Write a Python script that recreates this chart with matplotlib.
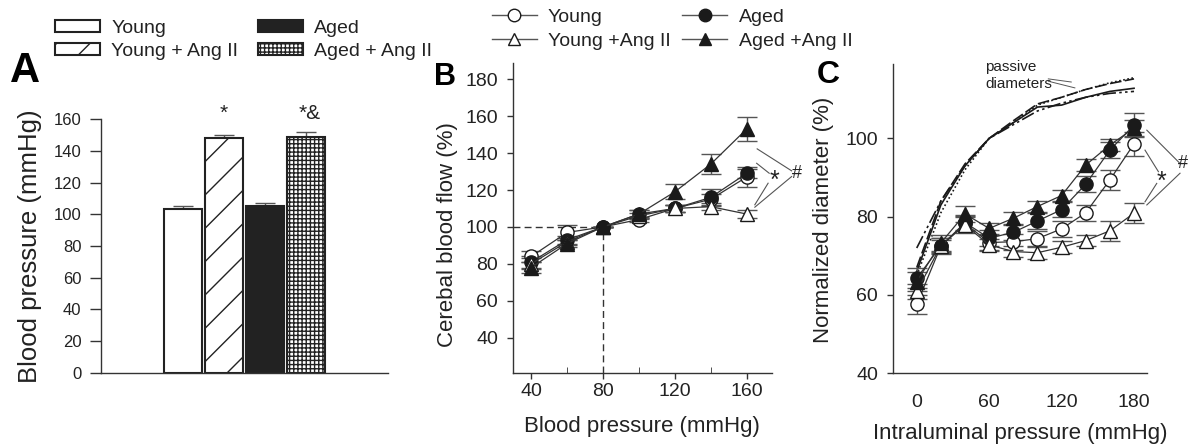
import matplotlib
matplotlib.use("Agg")
import matplotlib.pyplot as plt
from matplotlib.lines import Line2D
import numpy as np

plt.rcParams['font.family'] = ['Liberation Sans', 'DejaVu Sans']
plt.rcParams['hatch.linewidth'] = 1.0
plt.rcParams['hatch.color'] = '#222222'

# ---------------- Data ----------------
# Panel A
groups_a = ["Young", "Young + Ang II", "Aged", "Aged + Ang II"]
bp_mean = [103.5, 148, 105, 149]
bp_err = [2, 2, 2, 2.7]
bp_marks = ["", "*", "", "*&"]

# Panel B
series_labels = ["Young", "Aged", "Young +Ang II", "Aged +Ang II"]
bp_x = [40, 60, 80, 100, 120, 140, 160]
cbf_young = [84, 97, 100, 104, 110, 115, 127]
cbf_aged = [81, 93, 100, 107, 110, 116, 129]
cbf_young_ang = [80, 92, 100, 106, 110, 111, 107]
cbf_aged_ang = [78, 91, 100, 107, 119, 134, 153]
cbf_young_err = [3, 4, 0, 1.5, 2, 3, 5.5]
cbf_aged_err = [3, 2, 0, 2, 2, 4.5, 2.5]
cbf_young_ang_err = [3, 2, 0, 1.5, 2, 2, 2]
cbf_aged_ang_err = [3, 2, 0, 2, 4, 5.5, 6.5]

# Panel C
ip_x = [0, 20, 40, 60, 80, 100, 120, 140, 160, 180]
dia_young = [57.6, 72.5, 78.3, 73.4, 73.6, 74.4, 76.9, 81.0, 89.4, 98.6]
dia_aged = [64.3, 72.5, 78.5, 74.5, 76.0, 78.9, 81.8, 88.3, 97.0, 103.4]
dia_young_ang = [60.9, 72.6, 77.9, 72.8, 71.1, 70.8, 72.2, 73.9, 76.4, 80.9]
dia_aged_ang = [63.4, 73.3, 80.7, 77.0, 79.6, 82.6, 85.4, 93.2, 98.3, 102.6]
dia_young_err = [2.5, 1.5, 2, 2, 2, 2, 2, 2, 2.5, 3]
dia_aged_err = [2.5, 2, 2, 2, 2, 2, 2, 2, 2, 3]
dia_young_ang_err = [2, 2, 2, 1.5, 1.5, 1.5, 1.5, 1.5, 2.5, 2.5]
dia_aged_ang_err = [2.5, 2, 2, 1.5, 1.5, 1.5, 1.5, 1.5, 1.5, 2]
passive_solid = [66, 83, 93, 100, 104, 108, 108.5, 110.5, 112, 112.8]
passive_dashed = [67, 84, 93.5, 100, 104.5, 108.8, 110.5, 112.5, 114, 115.2]
passive_dotted = [65, 81, 92, 100, 104, 108.5, 110.5, 112.5, 114.2, 115.5]
passive_dashdot = [72, 84, 93, 100, 103.5, 107, 109, 110.5, 111.5, 112]

# ---------------- Figure ----------------
W, H = 1188, 446
fig = plt.figure(figsize=(W / 100, H / 100), dpi=100)
fig.patch.set_facecolor('white')

TXT = '#222222'
SP = '#333333'
ERR = '#555555'


def ax_rect(l, r, b, t):
    return [l / W, 1 - b / H, (r - l) / W, (b - t) / H]


def style(ax, tick_fs):
    for s in ['top', 'right']:
        ax.spines[s].set_visible(False)
    for s in ['left', 'bottom']:
        ax.spines[s].set_color(SP)
        ax.spines[s].set_linewidth(1.0)
    ax.tick_params(colors=SP, labelcolor=TXT, labelsize=tick_fs, width=1.0)


# ---------- Panel A ----------
axA = fig.add_axes(ax_rect(101, 388, 372.7, 119.3))
style(axA, 12)
xa = np.arange(1, 5)
faces = ['white', 'white', '#222222', 'white']
hatches = [None, '/', None, '++++']
bars = []
for i in range(4):
    b = axA.bar(xa[i], bp_mean[i], width=0.94, color=faces[i], edgecolor='#222222',
                linewidth=1.5, hatch=hatches[i], label=groups_a[i], zorder=2)
    bars.append(b)
    axA.errorbar(xa[i], bp_mean[i], yerr=[[0], [bp_err[i]]], fmt='none', ecolor=ERR,
                 elinewidth=1.0, capsize=7, capthick=1.0, zorder=1)
    if bp_marks[i]:
        axA.text(xa[i] + (0.08 if len(bp_marks[i]) > 1 else 0), 157.5, bp_marks[i],
                 ha='center', va='bottom', fontsize=15, color=TXT, clip_on=False)
axA.set_xlim(-1, 6)
axA.set_ylim(0, 160)
axA.set_yticks(range(0, 161, 20))
axA.set_xticks([])
axA.tick_params(axis='y', length=8, pad=6)
axA.set_ylabel("Blood pressure (mmHg)", fontsize=18.5, color=TXT)
axA.yaxis.set_label_coords(-0.206, 0.5)

fig.legend(handles=[bars[0], bars[1], bars[2], bars[3]], labels=groups_a, ncol=2,
           loc='upper left', bbox_to_anchor=(55 / W, 1 - 20 / H), frameon=False,
           fontsize=14, handlelength=2.32, handleheight=0.57, handletextpad=0.57,
           columnspacing=1.0, labelspacing=0.30, borderpad=0, borderaxespad=0,
           labelcolor=TXT)

# ---------- Panel B ----------
axB = fig.add_axes(ax_rect(513.3, 771.7, 372.7, 62.7))
style(axB, 14)
ms = 9.5
specs = [
    (cbf_young, cbf_young_err, 'o', 'white'),
    (cbf_aged, cbf_aged_err, 'o', '#1a1a1a'),
    (cbf_young_ang, cbf_young_ang_err, '^', 'white'),
    (cbf_aged_ang, cbf_aged_ang_err, '^', '#1a1a1a'),
]
for k, (ys, es, mk, fc) in enumerate(specs):
    axB.errorbar(bp_x, ys, yerr=es, fmt='none', ecolor=ERR, elinewidth=1.0,
                 capsize=7, capthick=1.0, zorder=2)
    axB.plot(bp_x, ys, color=SP, lw=0.9, marker=mk, ms=ms, mfc=fc, mec='#1a1a1a',
             mew=1.0, zorder=3 + k)
axB.plot([30, 80], [100, 100], ls=(0, (5, 3)), color='#333333', lw=1.0, zorder=1)
axB.plot([80, 80], [21, 100], ls=(0, (5, 3)), color='#333333', lw=1.0, zorder=1)
axB.set_xlim(30, 174)
axB.set_ylim(21, 189)
axB.set_yticks(range(40, 181, 20))
axB.set_xticks([40, 80, 120, 160])
axB.set_xticks([60, 100, 140], minor=True)
axB.tick_params(axis='y', length=4.5, pad=6.5)
axB.tick_params(axis='x', which='major', length=4.5, pad=3)
axB.tick_params(axis='x', which='minor', length=4, direction='in', color=SP)
axB.set_ylabel("Cerebal blood flow (%)", fontsize=16, color=TXT)
axB.yaxis.set_label_coords(-0.214, 0.444)
axB.set_xlabel("Blood pressure (mmHg)", fontsize=16, color=TXT)
axB.xaxis.set_label_coords(0.498, -0.14)
# significance brackets
lkw = dict(color='#555555', lw=0.8, clip_on=False)
axB.plot([165.9, 185.1], [142.3, 130.4], **lkw)
axB.plot([185.1, 164.6], [127.3, 110.7], **lkw)
axB.plot([165.6, 172.6], [134.5, 129.1], **lkw)
axB.plot([172.0, 164.6], [123.7, 112.0], **lkw)
axB.text(187.9, 129.1, "#", fontsize=13, ha='center', va='center', color=TXT, clip_on=False)
axB.text(175.8, 125.0, "*", fontsize=18, ha='center', va='center', color=TXT, clip_on=False)

leg_handles = [
    Line2D([], [], color='#555555', lw=1.0, marker='o', ms=9, mfc='white', mec='#1a1a1a'),
    Line2D([], [], color='#555555', lw=1.0, marker='^', ms=9, mfc='white', mec='#1a1a1a'),
    Line2D([], [], color='#555555', lw=1.0, marker='o', ms=9, mfc='#1a1a1a', mec='#1a1a1a'),
    Line2D([], [], color='#555555', lw=1.0, marker='^', ms=9, mfc='#1a1a1a', mec='#1a1a1a'),
]
fig.legend(handles=leg_handles,
           labels=[series_labels[0], series_labels[2], series_labels[1], series_labels[3]],
           ncol=2, loc='upper left', bbox_to_anchor=(491.7 / W, 1 - 8 / H), frameon=False,
           fontsize=14, handlelength=2.32, handletextpad=0.57, columnspacing=0.6,
           labelspacing=0.35, borderpad=0, borderaxespad=0, labelcolor=TXT)

# ---------- Panel C ----------
axC = fig.add_axes(ax_rect(893.3, 1146.7, 373.3, 64))
style(axC, 14)
axC.plot(ip_x, passive_solid, color='#1a1a1a', lw=1.2, ls='-', zorder=2)
axC.plot(ip_x, passive_dashed, color='#1a1a1a', lw=1.2, ls=(0, (7, 2)), zorder=2)
axC.plot(ip_x, passive_dotted, color='#1a1a1a', lw=1.2, ls=(0, (1, 1.5)), zorder=2)
axC.plot(ip_x, passive_dashdot, color='#1a1a1a', lw=1.2, ls=(0, (8, 2, 1.5, 2, 1.5, 2)), zorder=2)
specsC = [
    (dia_young, dia_young_err, 'o', 'white'),
    (dia_aged, dia_aged_err, 'o', '#1a1a1a'),
    (dia_young_ang, dia_young_ang_err, '^', 'white'),
    (dia_aged_ang, dia_aged_ang_err, '^', '#1a1a1a'),
]
for k, (ys, es, mk, fc) in enumerate(specsC):
    axC.errorbar(ip_x, ys, yerr=es, fmt='none', ecolor=ERR, elinewidth=1.0,
                 capsize=7, capthick=1.0, zorder=3)
    axC.plot(ip_x, ys, color=SP, lw=0.9, marker=mk, ms=ms, mfc=fc, mec='#1a1a1a',
             mew=1.0, zorder=4 + k)
axC.set_xlim(-19.4, 190.5)
axC.set_ylim(40, 119)
axC.set_yticks([40, 60, 80, 100])
axC.set_xticks([0, 60, 120, 180])
axC.tick_params(axis='y', length=4.5, pad=6.5)
axC.tick_params(axis='x', length=0, pad=15)
axC.set_ylabel("Normalized diameter (%)", fontsize=16, color=TXT)
axC.yaxis.set_label_coords(-0.234, 0.496)
axC.set_xlabel("Intraluminal pressure (mmHg)", fontsize=16, color=TXT)
axC.xaxis.set_label_coords(0.502, -0.162)
axC.text(56.6, 118.2, "passive", fontsize=11, ha='left', va='center', color=TXT, clip_on=False)
axC.text(56.6, 114.0, "diameters", fontsize=11, ha='left', va='center', color=TXT, clip_on=False)
axC.plot([109, 131], [114.6, 112.9], color='#555555', lw=0.7, zorder=5)
axC.plot([109, 128], [115.2, 114.4], color='#555555', lw=0.7, zorder=5)
axC.plot([190.6, 218.1], [102.1, 93.6], **lkw)
axC.plot([218.1, 190.6], [91.1, 83.0], **lkw)
axC.plot([189.1, 200.2], [97.0, 91.5], **lkw)
axC.plot([198.8, 189.1], [88.5, 83.8], **lkw)
axC.text(220.9, 93.6, "#", fontsize=13, ha='center', va='center', color=TXT, clip_on=False)
axC.text(203.0, 89.0, "*", fontsize=18, ha='center', va='center', color=TXT, clip_on=False)

# Panel letters
fig.text(10 / W, 1 - 82 / H, "A", fontsize=30, fontweight='bold', color='black', va='baseline', ha='left')
fig.text(434 / W, 1 - 85 / H, "B", fontsize=22, fontweight='bold', color='black', va='baseline', ha='left')
fig.text(817 / W, 1 - 83 / H, "C", fontsize=23, fontweight='bold', color='black', va='baseline', ha='left')

fig.savefig("out.png", dpi=100, facecolor='white')
